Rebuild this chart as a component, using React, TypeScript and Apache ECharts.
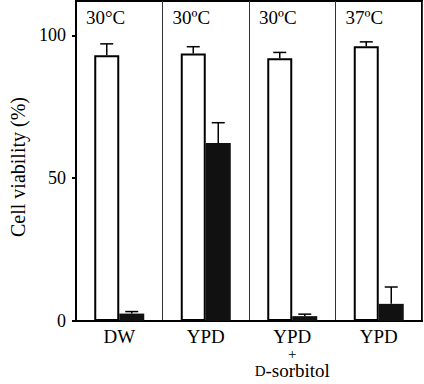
import React, { useEffect, useRef } from 'react';
import * as echarts from 'echarts';

const categories = ['DW', 'YPD', 'YPD\n+\nD-sorbitol', 'YPD'];
const temperatures = ['30°C', '30ºC', '30ºC', '37ºC'];
const whiteValues = [93.0, 93.6, 92.0, 96.2];
const whiteErrors = [4.0, 2.4, 2.0, 1.5];
const blackValues = [2.6, 62.3, 1.7, 6.0];
const blackErrors = [0.7, 7.1, 0.7, 5.9];
const yTicks = [0, 50, 100];
const yMin = 0;
const yMax = 112;

const FONT = 'Liberation Serif';
const BAR_W = 25;

function errorSeries(values: number[], errors: number[], offset: number) {
  return {
    type: 'custom',
    data: values.map((v, i) => [i, v, v + errors[i]]),
    encode: { x: 0, y: [1, 2] },
    z: 5,
    renderItem: (params: any, api: any) => {
      const base = api.coord([api.value(0), api.value(1)]);
      const top = api.coord([api.value(0), api.value(2)]);
      const x = base[0] + offset;
      const st = { stroke: '#000', lineWidth: 1.5 };
      return {
        type: 'group',
        children: [
          { type: 'line', shape: { x1: x, y1: base[1], x2: x, y2: top[1] }, style: st },
          { type: 'line', shape: { x1: x - 6.5, y1: top[1], x2: x + 6.5, y2: top[1] }, style: st },
        ],
      };
    },
  };
}

function formatCategory(v: string) {
  return v
    .split('\n')
    .map((line) => (line === '+' ? '{p|+}' : line.replace('D-sorbitol', '{sc|D}-sorbitol')))
    .join('\n');
}

export default function App() {
  const ref = useRef<HTMLDivElement>(null);
  useEffect(() => {
    if (!ref.current) return;
    const chart = echarts.init(ref.current, null, { renderer: 'svg' });
    chart.setOption({
      animation: false,
      backgroundColor: '#fff',
      textStyle: { fontFamily: FONT, color: '#000' },
      grid: {
        left: 76,
        right: 2,
        top: 1,
        bottom: 63,
        show: true,
        borderColor: '#000',
        borderWidth: 2,
        backgroundColor: 'transparent',
      },
      xAxis: {
        type: 'category',
        data: categories,
        axisTick: { show: false },
        axisLine: { lineStyle: { color: '#000', width: 2 } },
        splitLine: { show: true, interval: 0, lineStyle: { color: '#333', width: 1 } },
        axisLabel: {
          interval: 0,
          fontSize: 19,
          lineHeight: 17,
          margin: 7,
          color: '#000',
          fontFamily: FONT,
          formatter: formatCategory,
          rich: {
            sc: { fontSize: 15, lineHeight: 17, fontFamily: FONT, color: '#000' },
            p: { fontSize: 15, lineHeight: 17, fontFamily: FONT, color: '#000' },
          },
        },
      },
      yAxis: {
        type: 'value',
        min: yMin,
        max: yMax,
        name: 'Cell viability (%)',
        nameLocation: 'middle',
        nameGap: 46,
        nameTextStyle: { fontSize: 20, fontFamily: FONT, color: '#000', padding: [0, 12, 0, 0] },
        axisLine: { show: true, lineStyle: { color: '#000', width: 2 } },
        axisTick: { show: true, inside: false, length: 4, lineStyle: { color: '#000', width: 2 }, customValues: yTicks },
        axisLabel: { fontSize: 18, margin: 10, color: '#000', fontFamily: FONT, customValues: yTicks },
        splitLine: { show: false },
      },
      series: [
        {
          type: 'bar',
          data: whiteValues,
          barWidth: BAR_W,
          barGap: '0%',
          itemStyle: { color: '#fff', borderColor: '#000', borderWidth: 2 },
          z: 3,
        },
        {
          type: 'bar',
          data: blackValues,
          barWidth: BAR_W,
          barGap: '0%',
          itemStyle: { color: '#111', borderColor: '#111', borderWidth: 0 },
          z: 3,
        },
        errorSeries(whiteValues, whiteErrors, -BAR_W / 2),
        errorSeries(blackValues, blackErrors, BAR_W / 2),
        {
          type: 'custom',
          data: temperatures.map((_, i) => [i, yMax]),
          encode: { x: 0, y: 1 },
          z: 6,
          renderItem: (params: any, api: any) => {
            const p = api.coord([api.value(0), yMax]);
            const bw = api.size([1, 0])[0];
            return {
              type: 'text',
              x: p[0] - bw / 2 + 10,
              y: p[1] + 16,
              style: {
                text: temperatures[params.dataIndex],
                fill: '#000',
                fontSize: 19,
                fontFamily: FONT,
                align: 'left',
                verticalAlign: 'middle',
              },
            };
          },
        },
      ],
    });
    return () => chart.dispose();
  }, []);
  return (
    <div
      ref={ref}
      style={{ position: 'fixed', left: 0, top: 0, width: 424, height: 384, background: '#fff' }}
    />
  );
}
